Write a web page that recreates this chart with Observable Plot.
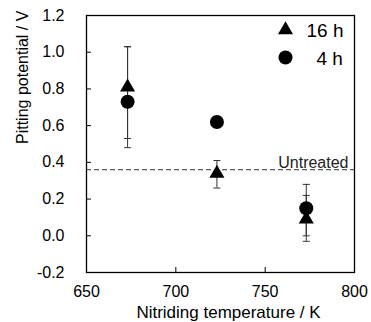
<!DOCTYPE html>
<html><head><meta charset="utf-8">
<script src="https://cdn.jsdelivr.net/npm/d3@7"></script>
<script src="https://cdn.jsdelivr.net/npm/@observablehq/plot@0.6"></script>
<style>body{margin:0;background:#fff}</style>
</head><body><div id="chart"></div>
<script>
const temperatures = [673, 723, 773];
const potential16h = [0.81, 0.34, 0.09];
const low16h = [0.53, 0.26, -0.03];
const high16h = [1.03, 0.41, 0.22];
const potential4h = [0.73, 0.62, 0.15];
const low4h = [0.48, null, 0.00];
const high4h = [1.03, null, 0.28];
const untreatedPotential = 0.36;
const untreatedLabel = "Untreated";
const xTicks = [650, 700, 750, 800];
const yTicks = [-0.2, 0.0, 0.2, 0.4, 0.6, 0.8, 1.0, 1.2];
const seriesNames = ["16 h", "4 h"];
const xLabel = "Nitriding temperature / K";
const yLabel = "Pitting potential / V";

const rows16 = temperatures.map((t, i) => ({t, v: potential16h[i], lo: low16h[i], hi: high16h[i]}));
const rows4 = temperatures.map((t, i) => ({t, v: potential4h[i], lo: low4h[i], hi: high4h[i]}));
const bars = [...rows16, ...rows4].filter(d => d.lo != null);
const caps = bars.flatMap(d => [{t: d.t, y: d.lo}, {t: d.t, y: d.hi}]);
const capSymbol = {draw(ctx) { ctx.moveTo(-3.5, 0); ctx.lineTo(3.5, 0); }};
const font = "'Liberation Sans', Arial, sans-serif";

const chart = Plot.plot({
  width: 371, height: 322,
  marginLeft: 86, marginRight: 17, marginTop: 15, marginBottom: 50,
  style: {fontFamily: font, fontSize: "16px", background: "white", color: "black"},
  x: {domain: [650, 800]},
  y: {domain: [-0.2, 1.2]},
  marks: [
    Plot.ruleY([untreatedPotential], {stroke: "#333", strokeWidth: 1, strokeDasharray: "5,3"}),
    Plot.text([untreatedLabel], {frameAnchor: "right", y: untreatedPotential, textAnchor: "end", lineAnchor: "bottom", dx: -6, dy: -2, fontSize: 16, fill: "#222"}),
    Plot.ruleX(bars, {x: "t", y1: "lo", y2: "hi", stroke: "#333", strokeWidth: 1}),
    Plot.dot(caps, {x: "t", y: "y", symbol: capSymbol, stroke: "#333", strokeWidth: 1, r: 3}),
    Plot.dot(rows16, {x: "t", y: "v", symbol: "triangle", fill: "black", r: 5.6}),
    Plot.dot(rows4, {x: "t", y: "v", symbol: "circle", fill: "black", r: 7}),
    Plot.frame({stroke: "black", strokeWidth: 1.3}),
    Plot.axisX({ticks: xTicks, tickSize: -5, tickPadding: 18, tickFormat: d => String(d), label: null, fontSize: 16}),
    Plot.axisY({ticks: yTicks, tickSize: -5, tickPadding: 27, tickFormat: d => d.toFixed(1), label: null, fontSize: 16}),
    Plot.text([xLabel], {frameAnchor: "bottom", dx: 8, dy: 33, lineAnchor: "top", fontSize: 17}),
    Plot.text([yLabel], {frameAnchor: "left", rotate: -90, dx: -64, lineAnchor: "middle", fontSize: 16}),
    Plot.dot([seriesNames[0]], {frameAnchor: "top-right", dx: -69, dy: 14.5, symbol: "triangle", fill: "black", r: 5.6}),
    Plot.dot([seriesNames[1]], {frameAnchor: "top-right", dx: -69, dy: 42, symbol: "circle", fill: "black", r: 7}),
    Plot.text([seriesNames[0]], {frameAnchor: "top-right", dx: -48, dy: 15.5, textAnchor: "start", lineAnchor: "middle", fontSize: 19}),
    Plot.text([seriesNames[1]], {frameAnchor: "top-right", dx: -38, dy: 43, textAnchor: "start", lineAnchor: "middle", fontSize: 19})
  ]
});
document.getElementById("chart").appendChild(chart);
</script>
</body></html>
